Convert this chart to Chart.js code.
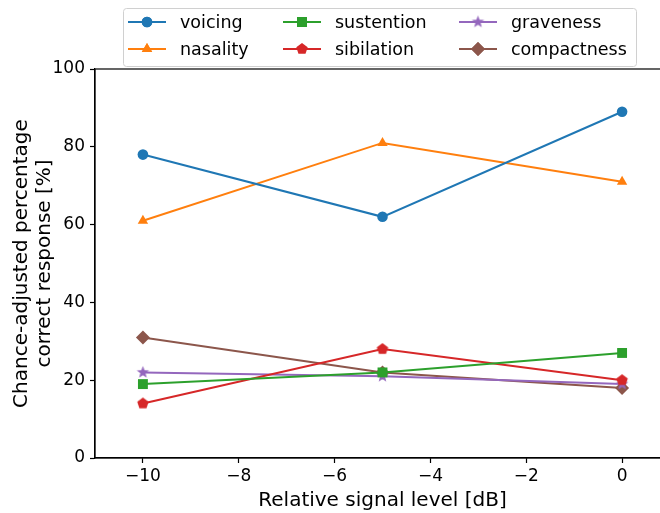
<!DOCTYPE html>
<html>
<head>
<meta charset="utf-8">
<script src="https://cdn.jsdelivr.net/npm/chart.js@4"></script>
<style>
    html, body { margin: 0; padding: 0; background: #fff; overflow: hidden; width: 660px; height: 513px; }
    #wrap { width: 677px; height: 513px; }
</style>
</head>
<body>
<div id="wrap"><canvas id="chart" width="677" height="513"></canvas></div>
<script>
const xValues = [-10, -5, 0];
const seriesNames = ['voicing', 'nasality', 'sustention', 'sibilation', 'graveness', 'compactness'];
const voicing = [78, 62, 89];
const nasality = [61, 81, 71];
const sustention = [19, 22, 27];
const sibilation = [14, 28, 20];
const graveness = [22, 21, 19];
const compactness = [31, 22, 18];
const xTicks = [-10, -8, -6, -4, -2, 0];
const yTicks = [0, 20, 40, 60, 80, 100];

const FONT = "'DejaVu Sans', sans-serif";

// filled polygon markers that chart.js has no built-in for
function polyMarker(color, points, size) {
    const c = document.createElement('canvas');
    c.width = size;
    c.height = size;
    const g = c.getContext('2d');
    g.fillStyle = color;
    g.beginPath();
    points.forEach(([px, py], i) => {
        const x = size / 2 + px, y = size / 2 + py;
        if (i === 0) g.moveTo(x, y); else g.lineTo(x, y);
    });
    g.closePath();
    g.fill();
    return c;
}
function pentagon(color, r) {
    const pts = [];
    for (let i = 0; i < 5; i++) {
        const a = -Math.PI / 2 + i * 2 * Math.PI / 5;
        pts.push([r * Math.cos(a), r * Math.sin(a)]);
    }
    return polyMarker(color, pts, Math.ceil(r * 2 + 2));
}
function star(color, r) {
    const pts = [];
    for (let i = 0; i < 10; i++) {
        const a = -Math.PI / 2 + i * Math.PI / 5;
        const rr = i % 2 === 0 ? r : r * 0.42;
        pts.push([rr * Math.cos(a), rr * Math.sin(a)]);
    }
    return polyMarker(color, pts, Math.ceil(r * 2 + 2));
}

const colors = ['#1f77b4', '#ff7f0e', '#2ca02c', '#d62728', '#9467bd', '#8c564b'];
const values = [voicing, nasality, sustention, sibilation, graveness, compactness];
const styles = ['circle', 'triangle', 'rect', pentagon(colors[3], 6), star(colors[4], 6.5), 'rectRot'];
const radii = [5.3, 6, 7, 6, 6, 7];

const datasets = seriesNames.map((name, i) => ({
    label: name,
    data: xValues.map((x, j) => ({ x: x, y: values[i][j] })),
    borderColor: colors[i],
    backgroundColor: colors[i],
    borderWidth: 2,
    pointStyle: styles[i],
    pointRadius: radii[i],
    pointHoverRadius: radii[i],
    pointBorderWidth: 0,
    tension: 0
}));

const framePlugin = {
    id: 'frame',
    afterDatasetsDraw(chart) {
        const { ctx, chartArea: a } = chart;
        ctx.save();
        ctx.strokeStyle = '#000';
        ctx.lineWidth = 1.2;
        ctx.strokeRect(a.left, a.top, a.right - a.left, a.bottom - a.top);
        ctx.restore();
    }
};

// matplotlib style legend, 3 columns filled column-first
const legendPlugin = {
    id: 'mplLegend',
    afterDraw(chart) {
        const ctx = chart.ctx;
        const box = { x: 123, y: 8, w: 513, h: 58 };
        ctx.save();
        ctx.fillStyle = 'rgba(255,255,255,0.8)';
        ctx.strokeStyle = '#d0d0d0';
        ctx.lineWidth = 1;
        ctx.beginPath();
        ctx.roundRect(box.x + 0.5, box.y + 0.5, box.w, box.h, 3);
        ctx.fill();
        ctx.stroke();
        const cols = [128, 283, 459];
        const rows = [22, 49];
        ctx.font = '17.5px ' + FONT;
        ctx.textBaseline = 'middle';
        datasets.forEach((ds, i) => {
            const cx = cols[Math.floor(i / 2)];
            const cy = rows[i % 2];
            ctx.strokeStyle = ds.borderColor;
            ctx.lineWidth = 2;
            ctx.beginPath();
            ctx.moveTo(cx, cy);
            ctx.lineTo(cx + 38, cy);
            ctx.stroke();
            ctx.fillStyle = ds.backgroundColor;
            Chart.helpers.drawPoint(ctx, { pointStyle: ds.pointStyle, radius: ds.pointRadius, borderWidth: 0, rotation: 0 }, cx + 19, cy);
            ctx.fill();
            ctx.fillStyle = '#000';
            ctx.fillText(ds.label, cx + 52, cy + 1);
        });
        ctx.restore();
    }
};

const minus = v => String(v).replace('-', '\u2212');

new Chart(document.getElementById('chart').getContext('2d'), {
    type: 'line',
    data: { datasets: datasets },
    options: {
        responsive: false,
        animation: false,
        layout: { padding: { top: 69, right: 1, left: 0, bottom: 0 } },
        plugins: {
            legend: { display: false },
            tooltip: { enabled: false }
        },
        scales: {
            x: {
                type: 'linear',
                min: -11,
                max: 1,
                afterBuildTicks: axis => { axis.ticks = xTicks.map(v => ({ value: v })); },
                afterFit: axis => { axis.height = 55; },
                grid: { drawOnChartArea: false, color: '#000', tickLength: 5, tickWidth: 1.2 },
                border: { display: true, color: '#000', width: 1.2 },
                ticks: { color: '#000', font: { family: FONT, size: 17 }, padding: 3, maxRotation: 0, callback: v => minus(v) },
                title: { display: true, text: 'Relative signal level [dB]', color: '#000', font: { family: FONT, size: 20 }, padding: { top: 2, bottom: 0 } }
            },
            y: {
                min: 0,
                max: 100,
                afterBuildTicks: axis => { axis.ticks = yTicks.map(v => ({ value: v })); },
                afterFit: axis => { axis.width = 95; },
                grid: { drawOnChartArea: false, color: '#000', tickLength: 5, tickWidth: 1.2 },
                border: { display: true, color: '#000', width: 1.2 },
                ticks: { color: '#000', font: { family: FONT, size: 17 }, padding: 5 },
                title: { display: true, text: ['Chance-adjusted percentage', 'correct response [%]'], color: '#000', font: { family: FONT, size: 20, lineHeight: 1.15 }, padding: { top: 10, bottom: 0 } }
            }
        }
    },
    plugins: [framePlugin, legendPlugin]
});
</script>
</body>
</html>
